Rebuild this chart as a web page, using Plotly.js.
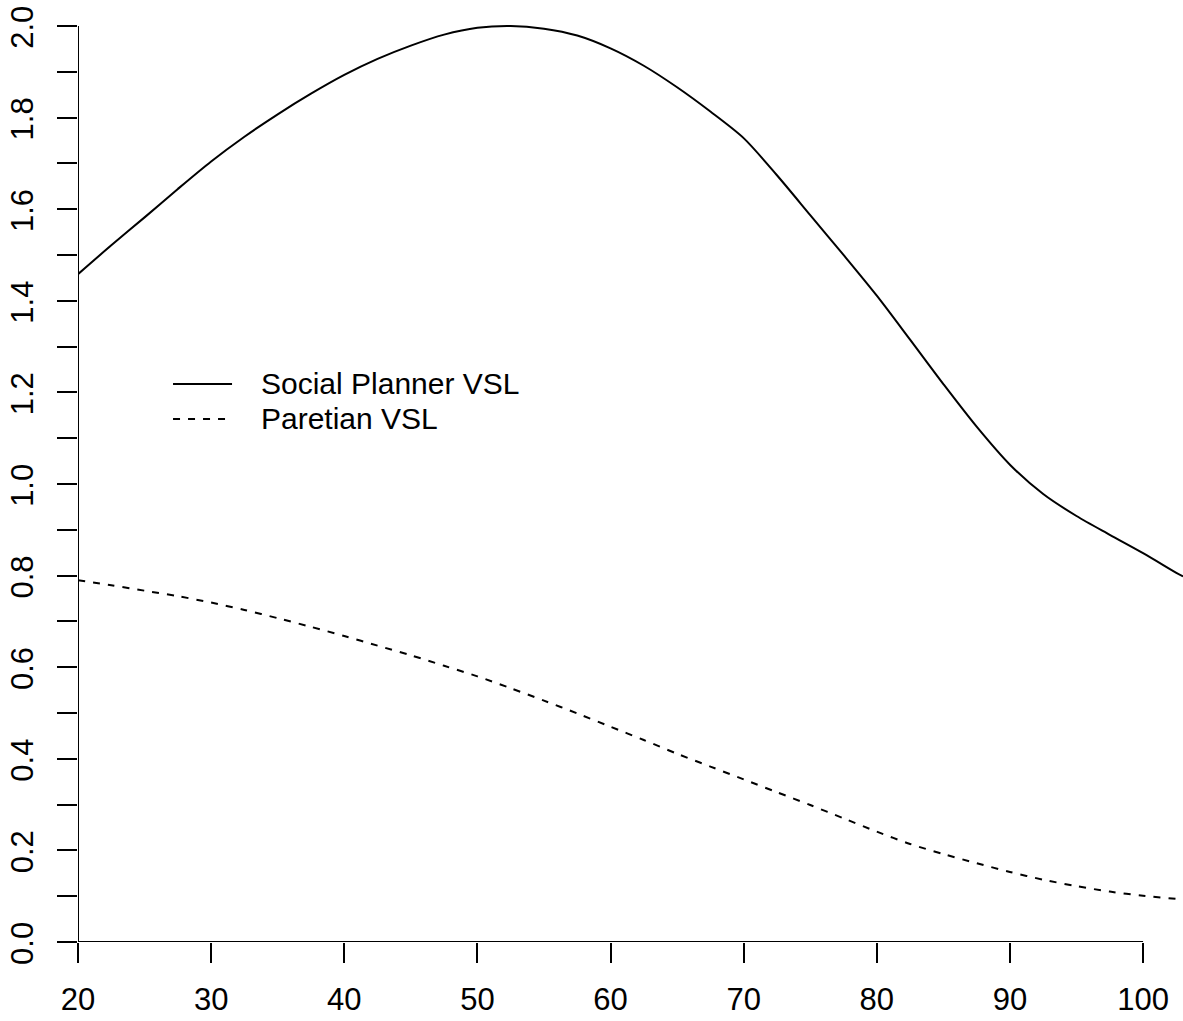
<!DOCTYPE html>
<html>
<head>
<meta charset="utf-8">
<script src="https://cdn.plot.ly/plotly-3.0.1.min.js"></script>
<style>
  html, body { margin: 0; padding: 0; background: #ffffff; }
  #chart { width: 1183px; height: 1021px; }
</style>
</head>
<body>
<div id="chart"></div>
<script>
// Age (x) values
const ages = [20, 22.5, 25, 27.5, 30, 32.5, 35, 37.5, 40, 42.5, 45, 47.5, 50, 52.5, 55, 57.5,
              60, 62.5, 65, 67.5, 70, 72.5, 75, 77.5, 80, 82.5, 85, 87.5, 90, 92.5, 95, 97.5,
              100, 102.5, 103];

// Social Planner VSL
const socialPlanner = [1.458, 1.521, 1.582, 1.644, 1.704, 1.758, 1.807, 1.852, 1.893, 1.928,
                       1.957, 1.981, 1.996, 2.000, 1.994, 1.979, 1.951, 1.913, 1.866, 1.813,
                       1.755, 1.674, 1.587, 1.500, 1.411, 1.315, 1.218, 1.125, 1.042, 0.978,
                       0.930, 0.889, 0.849, 0.806, 0.798];

// Paretian VSL
const paretian = [0.790, 0.779, 0.767, 0.755, 0.741, 0.725, 0.707, 0.688, 0.668, 0.647,
                  0.626, 0.603, 0.580, 0.554, 0.527, 0.499, 0.470, 0.441, 0.411, 0.383,
                  0.355, 0.327, 0.299, 0.270, 0.241, 0.214, 0.192, 0.172, 0.153, 0.136,
                  0.122, 0.110, 0.101, 0.094, 0.093];

const seriesNames = ["Social Planner VSL", "Paretian VSL"];

const xTickVals = [20, 30, 40, 50, 60, 70, 80, 90, 100];
const xTickText = ["20", "30", "40", "50", "60", "70", "80", "90", "100"];
const yTickVals = [0, 0.1, 0.2, 0.3, 0.4, 0.5, 0.6, 0.7, 0.8, 0.9, 1.0,
                   1.1, 1.2, 1.3, 1.4, 1.5, 1.6, 1.7, 1.8, 1.9, 2.0];
const yTickText = ["0.0", "", "0.2", "", "0.4", "", "0.6", "", "0.8", "", "1.0",
                   "", "1.2", "", "1.4", "", "1.6", "", "1.8", "", "2.0"];

const FONT = "Liberation Sans, Arial, Helvetica, sans-serif";

const traces = [
  {
    x: ages, y: socialPlanner, name: seriesNames[0], type: "scatter", mode: "lines",
    line: { color: "#000000", width: 2, shape: "spline", smoothing: 0.8 },
    showlegend: false, hoverinfo: "x+y"
  },
  {
    x: ages, y: paretian, name: seriesNames[1], type: "scatter", mode: "lines",
    line: { color: "#000000", width: 2, dash: "7px,8px", shape: "spline", smoothing: 0.8 },
    showlegend: false, hoverinfo: "x+y"
  }
];

// Axis line extents (R-style axes only span the tick range)
const xAxisSpan = [xTickVals[0], xTickVals[xTickVals.length - 1]];
const yAxisSpan = [yTickVals[0], yTickVals[yTickVals.length - 1]];

// Manual legend placement (paper coordinates)
const legendX0 = 0.086, legendX1 = 0.1394, legendTextX = 0.1638;
const legendY = [0.5943, 0.557];

const layout = {
  width: 1183,
  height: 1021,
  margin: { l: 78, r: 0, t: 3, b: 79, pad: 0 },
  paper_bgcolor: "#ffffff",
  plot_bgcolor: "#ffffff",
  font: { family: FONT, size: 31, color: "#000000" },
  showlegend: false,
  xaxis: {
    range: [20, 103],
    showgrid: false, zeroline: false, showline: false,
    tickmode: "array", tickvals: xTickVals, ticktext: xTickText,
    ticks: "outside", ticklen: 20, tickwidth: 2, tickcolor: "#000000",
    tickfont: { family: FONT, size: 31, color: "#000000" },
    ticklabelstandoff: 10,
    ticklabeloverflow: "allow"
  },
  yaxis: {
    range: [0, 2.05],
    showgrid: false, zeroline: false, showline: false,
    tickmode: "array", tickvals: yTickVals, ticktext: yTickText,
    ticks: "outside", ticklen: 20, tickwidth: 2, tickcolor: "#000000",
    tickangle: -90,
    tickfont: { family: FONT, size: 31, color: "#000000" },
    ticklabelstandoff: 12,
    ticklabelshift: 6,
    ticklabeloverflow: "allow"
  },
  shapes: [
    { type: "line", xref: "x", yref: "y", x0: xAxisSpan[0], x1: xAxisSpan[1], y0: 0, y1: 0,
      line: { color: "#000000", width: 2 }, layer: "above" },
    { type: "line", xref: "x", yref: "y", x0: xAxisSpan[0], x1: xAxisSpan[0], y0: yAxisSpan[0], y1: yAxisSpan[1],
      line: { color: "#000000", width: 2 }, layer: "above" },
    { type: "line", xref: "paper", yref: "paper", x0: legendX0, x1: legendX1, y0: legendY[0], y1: legendY[0],
      line: { color: "#000000", width: 2 } },
    { type: "line", xref: "paper", yref: "paper", x0: legendX0, x1: legendX1, y0: legendY[1], y1: legendY[1],
      line: { color: "#000000", width: 2, dash: "7px,8px" } }
  ],
  annotations: [
    { xref: "paper", yref: "paper", x: legendTextX, y: legendY[0], text: seriesNames[0],
      showarrow: false, xanchor: "left", yanchor: "middle",
      font: { family: FONT, size: 30, color: "#000000" } },
    { xref: "paper", yref: "paper", x: legendTextX, y: legendY[1], text: seriesNames[1],
      showarrow: false, xanchor: "left", yanchor: "middle",
      font: { family: FONT, size: 30, color: "#000000" } }
  ]
};

Plotly.newPlot("chart", traces, layout, { staticPlot: true, displayModeBar: false });
</script>
</body>
</html>
